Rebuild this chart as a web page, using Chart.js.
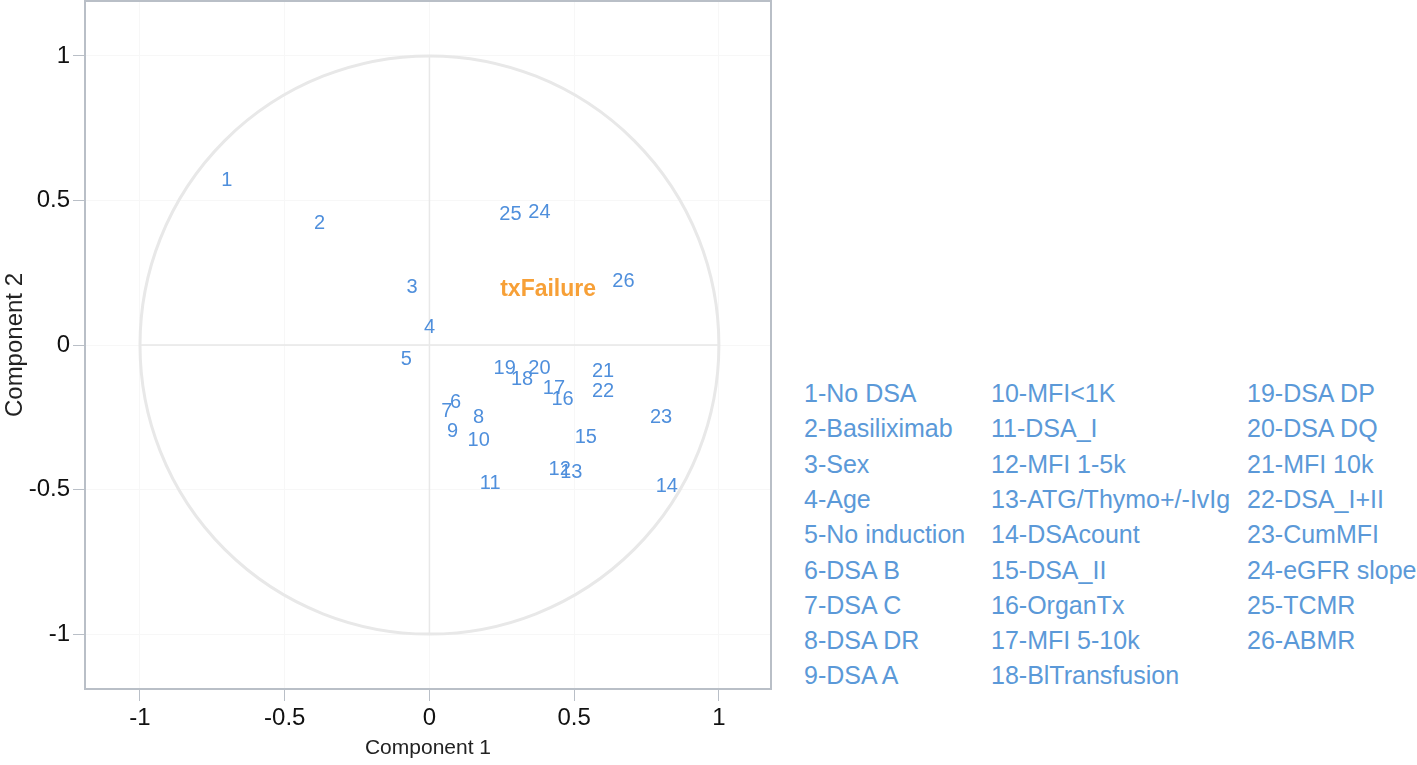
<!DOCTYPE html>
<html>
<head>
<meta charset="utf-8">
<title>Component plot</title>
<script src="https://cdn.jsdelivr.net/npm/chart.js@4.4.1/dist/chart.umd.min.js"></script>
<style>
  html, body { margin: 0; padding: 0; background: #fff; }
  #wrap { position: relative; width: 1417px; height: 765px; overflow: hidden; }
  #plot { position: absolute; left: 0; top: 0; width: 800px; height: 765px; }
  .leg { position: absolute; font-family: "Liberation Sans", Arial, sans-serif; font-size: 25px;
         color: #5b99d8; white-space: nowrap; line-height: 30px; }
</style>
</head>
<body>
<div id="wrap">
  <div id="plot"><canvas id="chart-area"></canvas></div>
  <div id="legend"></div>
</div>
<script>
// variable numbers and their loadings on component 1 / component 2
var ids = ['1','2','3','4','5','6','7','8','9','10','11','12','13',
           '14','15','16','17','18','19','20','21','22','23','24','25','26'];
var comp1 = [-0.70, -0.38, -0.06, 0.00, -0.08, 0.09, 0.06, 0.17, 0.08, 0.17, 0.21, 0.45, 0.49,
             0.82, 0.54, 0.46, 0.43, 0.32, 0.26, 0.38, 0.60, 0.60, 0.80, 0.38, 0.28, 0.67];
var comp2 = [0.57, 0.42, 0.20, 0.06, -0.05, -0.20, -0.23, -0.25, -0.30, -0.33, -0.48, -0.43, -0.44,
             -0.49, -0.32, -0.19, -0.15, -0.12, -0.08, -0.08, -0.09, -0.16, -0.25, 0.46, 0.45, 0.22];

// outcome variable
var outcomeName = ['txFailure'];
var outcome1 = [0.41];
var outcome2 = [0.19];

var varNames = ['1-No DSA', '2-Basiliximab', '3-Sex', '4-Age', '5-No induction', '6-DSA B',
  '7-DSA C', '8-DSA DR', '9-DSA A', '10-MFI<1K', '11-DSA_I', '12-MFI 1-5k', '13-ATG/Thymo+/-IvIg',
  '14-DSAcount', '15-DSA_II', '16-OrganTx', '17-MFI 5-10k', '18-BlTransfusion', '19-DSA DP',
  '20-DSA DQ', '21-MFI 10k', '22-DSA_I+II', '23-CumMFI', '24-eGFR slope', '25-TCMR', '26-ABMR'];

var tickValues = [-1, -0.5, 0, 0.5, 1];

function toPoints(xs, ys) {
  return xs.map(function (v, i) { return { x: v, y: ys[i] }; });
}

// legend on the right, three columns of nine
var colLeft = [804, 991, 1247];
var legend = document.getElementById('legend');
varNames.forEach(function (name, i) {
  var d = document.createElement('div');
  d.className = 'leg';
  d.textContent = name;
  d.style.left = colLeft[Math.floor(i / 9)] + 'px';
  d.style.top = (378 + (i % 9) * 35.3) + 'px';
  legend.appendChild(d);
});

// circle, cross lines, frame and text labels
var decor = {
  id: 'decor',
  beforeDatasetsDraw: function (chart) {
    var c = chart.ctx, xs = chart.scales.x, ys = chart.scales.y;
    var cx = xs.getPixelForValue(0), cy = ys.getPixelForValue(0);
    var rx = xs.getPixelForValue(1) - cx, ry = cy - ys.getPixelForValue(1);
    c.save();
    c.strokeStyle = '#e8e8e8';
    c.lineWidth = 1.5;
    c.beginPath();
    c.moveTo(xs.getPixelForValue(-1), cy);
    c.lineTo(xs.getPixelForValue(1), cy);
    c.moveTo(cx, ys.getPixelForValue(1));
    c.lineTo(cx, ys.getPixelForValue(-1));
    c.stroke();
    c.strokeStyle = '#e8e8e8';
    c.lineWidth = 3;
    c.beginPath();
    c.ellipse(cx, cy, rx, ry, 0, 0, Math.PI * 2);
    c.stroke();
    var a = chart.chartArea;
    c.strokeStyle = '#b9bfc7';
    c.lineWidth = 2;
    c.strokeRect(a.left, a.top, a.right - a.left, a.bottom - a.top);
    c.restore();
  },
  afterDatasetsDraw: function (chart) {
    var c = chart.ctx;
    c.save();
    c.textAlign = 'center';
    c.textBaseline = 'middle';
    chart.data.datasets.forEach(function (ds, di) {
      var meta = chart.getDatasetMeta(di);
      c.font = ds.labelFont;
      c.fillStyle = ds.labelColor;
      meta.data.forEach(function (pt, i) {
        c.fillText(ds.texts[i], pt.x, pt.y);
      });
    });
    c.restore();
  }
};

var config = {
  type: 'scatter',
  data: {
    datasets: [{
      label: 'Variables',
      data: toPoints(comp1, comp2),
      texts: ids,
      labelFont: '20px "Liberation Sans", Arial, sans-serif',
      labelColor: '#4f8fdc',
      pointRadius: 0
    }, {
      label: 'Outcome',
      data: toPoints(outcome1, outcome2),
      texts: outcomeName,
      labelFont: 'bold 23px "Liberation Sans", Arial, sans-serif',
      labelColor: '#f7a037',
      pointRadius: 0
    }]
  },
  options: {
    responsive: true,
    maintainAspectRatio: false,
    animation: false,
    layout: { padding: { top: 1, right: 29, left: 0, bottom: 0 } },
    plugins: { legend: { display: false }, tooltip: { enabled: false } },
    scales: {
      x: {
        type: 'linear',
        min: -1.19, max: 1.18,
        afterFit: function (s) { s.height = 76; s.paddingLeft = 0; s.paddingRight = 0; },
        afterBuildTicks: function (s) { s.ticks = tickValues.map(function (v) { return { value: v }; }); },
        ticks: { includeBounds: false, color: '#111', padding: 3,
                 font: { family: '"Liberation Sans", Arial, sans-serif', size: 24 },
                 callback: function (v) { return String(v); } },
        grid: { color: '#f7f7f7', tickColor: '#b9bfc7', tickLength: 12, lineWidth: 1 },
        border: { display: false },
        title: { display: true, text: 'Component 1', color: '#222', padding: { top: 0, bottom: 4 },
                 font: { family: '"Liberation Sans", Arial, sans-serif', size: 21 } }
      },
      y: {
        type: 'linear',
        min: -1.19, max: 1.19,
        afterFit: function (s) { s.width = 85; s.paddingTop = 0; s.paddingBottom = 0; },
        afterBuildTicks: function (s) { s.ticks = tickValues.map(function (v) { return { value: v }; }); },
        ticks: { includeBounds: false, color: '#111', padding: 3,
                 font: { family: '"Liberation Sans", Arial, sans-serif', size: 24 },
                 callback: function (v) { return String(v); } },
        grid: { color: '#f7f7f7', tickColor: '#b9bfc7', tickLength: 12, lineWidth: 1 },
        border: { display: false },
        title: { display: true, text: 'Component 2', color: '#222', padding: { top: 1, bottom: 0 },
                 font: { family: '"Liberation Sans", Arial, sans-serif', size: 24 } }
      }
    }
  },
  plugins: [decor]
};

window.onload = function () {
  var ctx = document.getElementById('chart-area').getContext('2d');
  window.myScatter = new Chart(ctx, config);
};
</script>
</body>
</html>
